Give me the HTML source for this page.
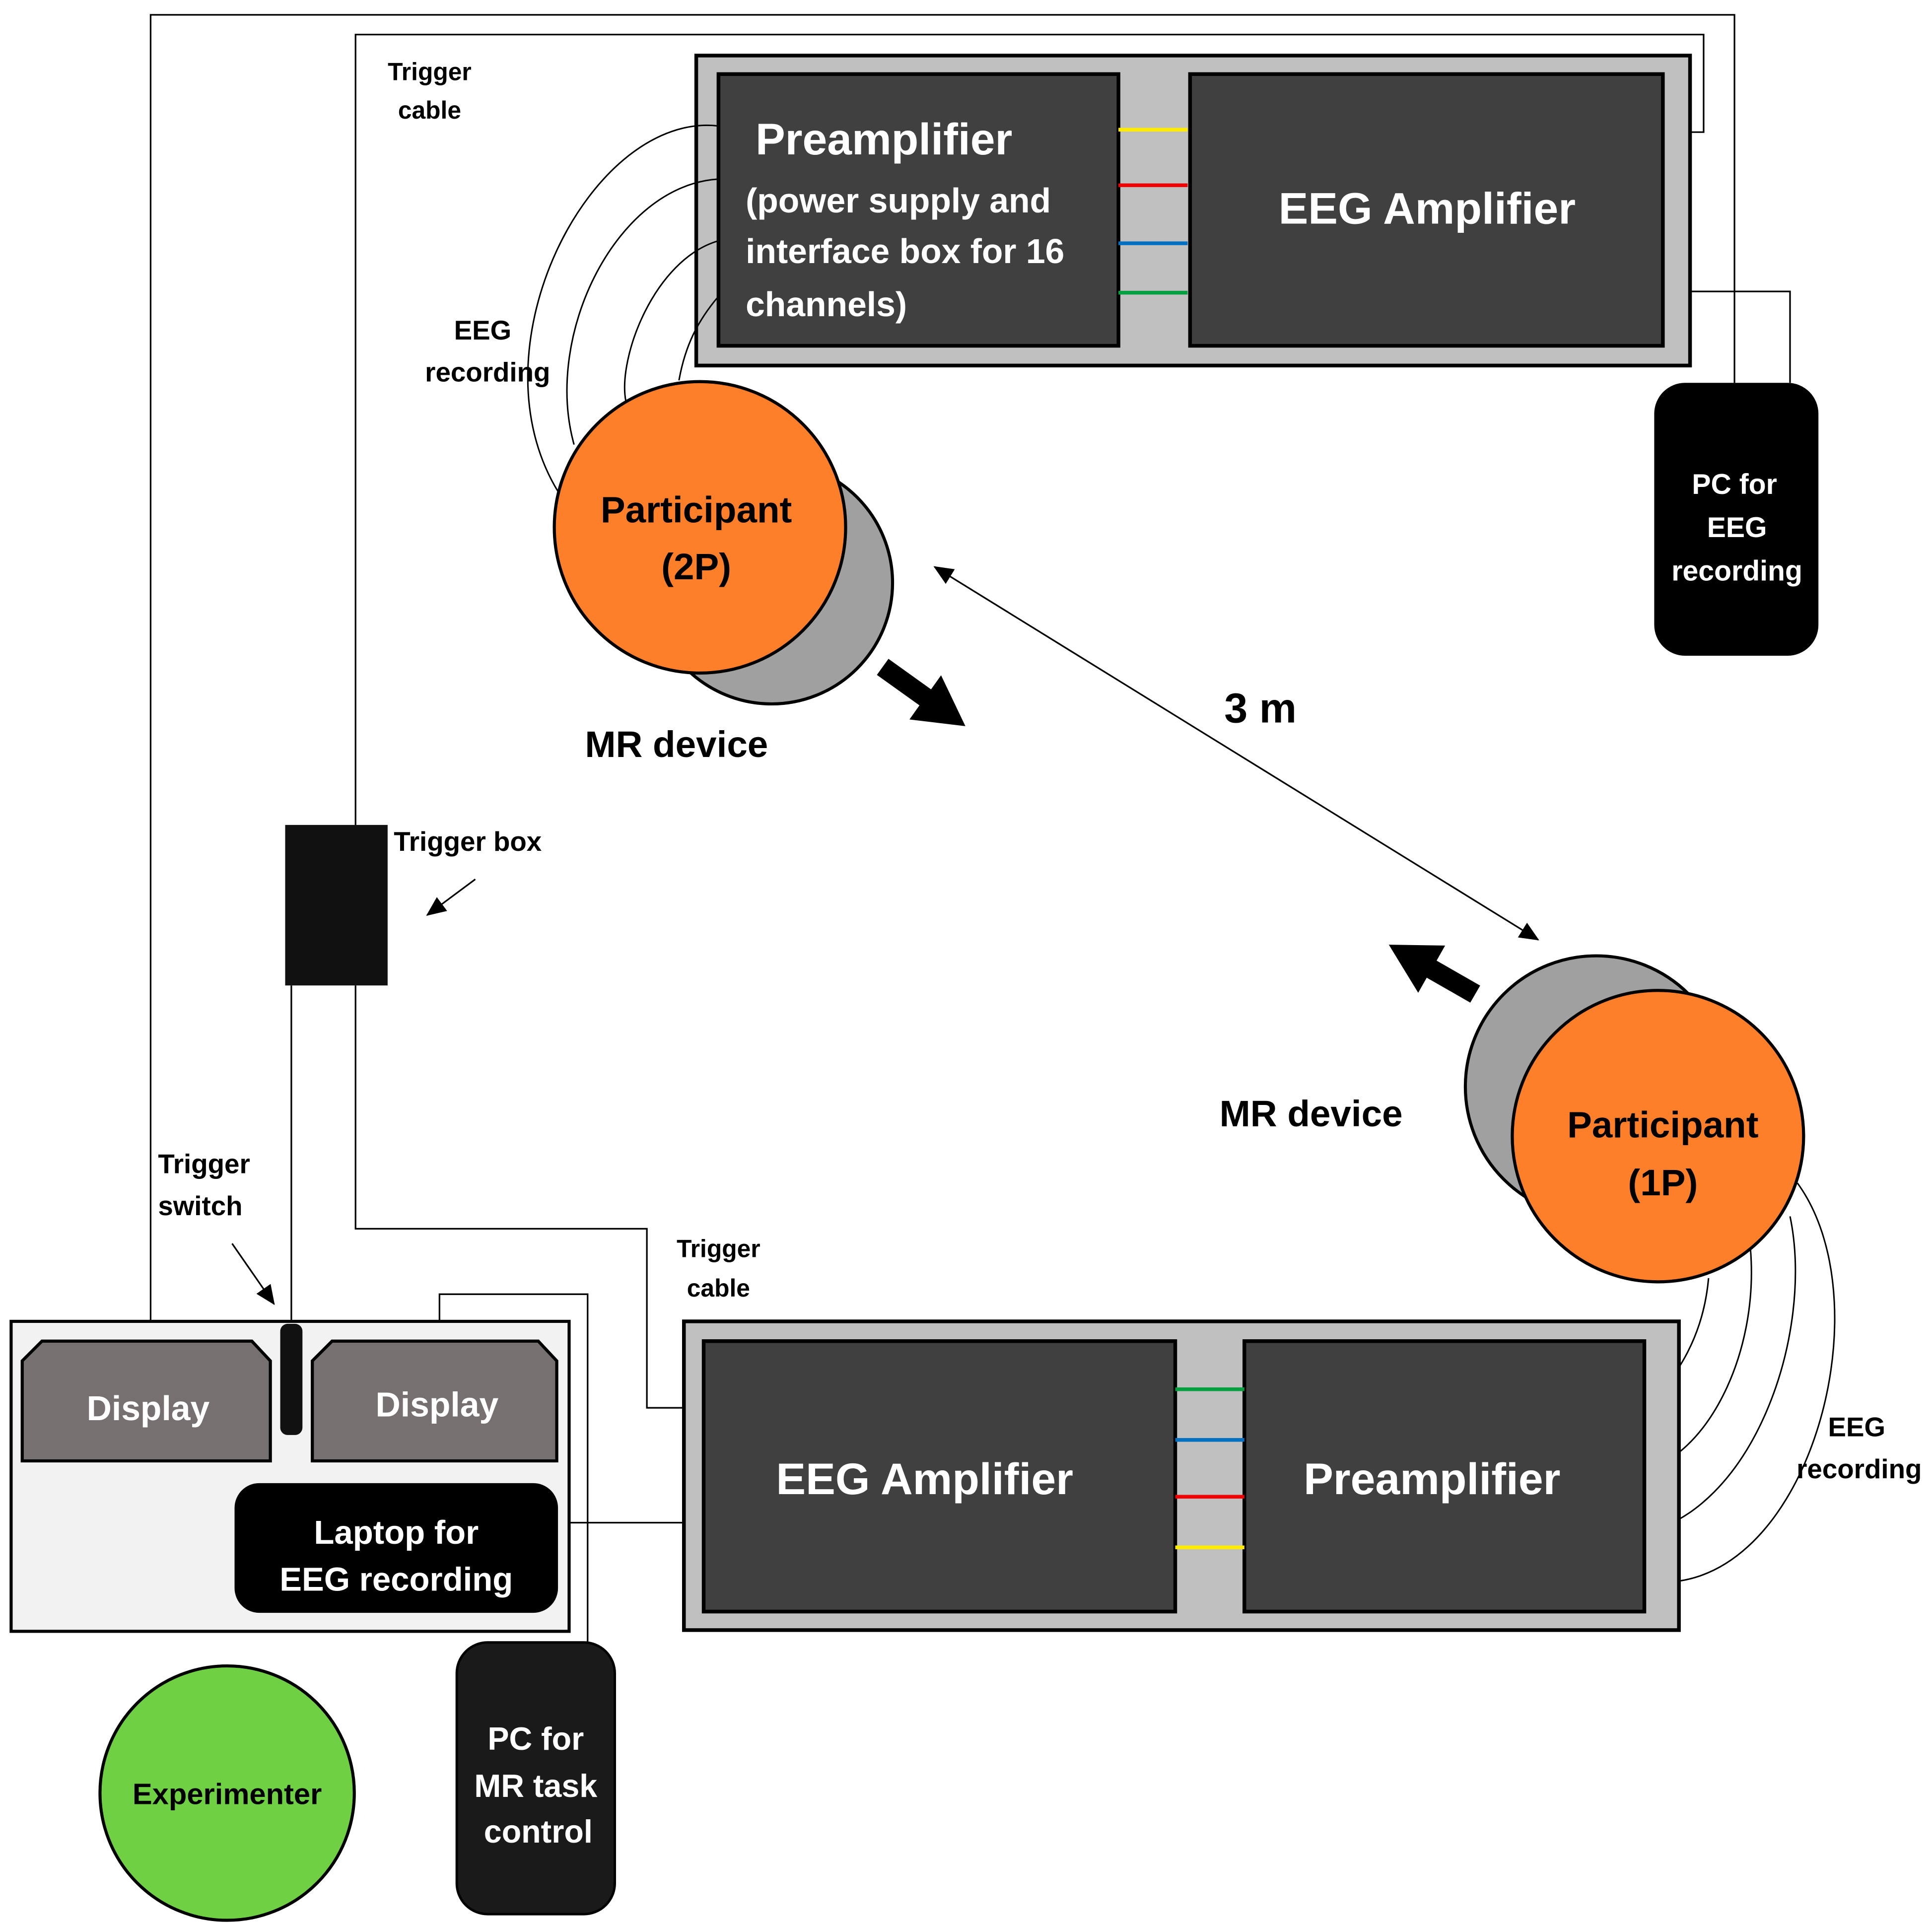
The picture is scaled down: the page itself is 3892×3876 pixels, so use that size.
<!DOCTYPE html>
<html><head><meta charset="utf-8"><style>html,body{margin:0;padding:0;background:#fff}svg{display:block}text{font-family:"Liberation Sans",sans-serif;font-weight:bold}</style></head><body>
<svg width="3892" height="3876" viewBox="0 0 1565 1558" preserveAspectRatio="none" xmlns="http://www.w3.org/2000/svg">
<defs>
<marker id="b" markerWidth="16" markerHeight="14" refX="15" refY="7" orient="auto" markerUnits="userSpaceOnUse"><path d="M0,0 L16,7 L0,14 Z" fill="#000"/></marker>
<marker id="c" markerWidth="16" markerHeight="14" refX="1" refY="7" orient="auto" markerUnits="userSpaceOnUse"><path d="M16,0 L0,7 L16,14 Z" fill="#000"/></marker></defs>
<g fill="none" stroke="#000" stroke-width="1.3">
<polyline points="122,1085 122,12 1405,12 1405,310"/>
<polyline points="288,668 288,28 1380,28 1380,107 1348,107"/>
<polyline points="1350,236 1450,236 1450,310"/>
<polyline points="288,798 288,995 524,995 524,1140 570,1140"/>
<line x1="236" y1="798" x2="236" y2="1072"/>
<polyline points="356,1085 356,1048 476,1048 476,1330"/>
<line x1="452" y1="1233" x2="570" y2="1233"/>
</g>
<rect x="564" y="45" width="805" height="251" fill="#c0c0c0" stroke="#000" stroke-width="3"/>
<rect x="582" y="60" width="324" height="220" fill="#404040" stroke="#000" stroke-width="3"/>
<rect x="964" y="60" width="383" height="220" fill="#404040" stroke="#000" stroke-width="3"/>
<g stroke-width="3"><line x1="906" y1="105" x2="962" y2="105" stroke="#ffeb00"/><line x1="906" y1="150" x2="962" y2="150" stroke="#e00"/><line x1="906" y1="197" x2="962" y2="197" stroke="#0070c0"/><line x1="906" y1="237" x2="962" y2="237" stroke="#00a040"/></g>
<text fill="#fff" font-size="36" x="612" y="125">Preamplifier</text>
<text fill="#fff" font-size="28" x="604" y="172">(power supply and</text>
<text fill="#fff" font-size="28" x="604" y="213">interface box for 16</text>
<text fill="#fff" font-size="28" x="604" y="256">channels)</text>
<text fill="#fff" font-size="36" x="1156" y="181" text-anchor="middle">EEG Amplifier</text>
<rect x="1340" y="310" width="133" height="221" rx="25" fill="#000"/>
<text fill="#fff" font-size="23" text-anchor="middle"><tspan x="1405" y="400">PC for</tspan><tspan x="1407" y="435">EEG</tspan><tspan x="1407" y="470">recording</tspan></text>
<circle cx="625" cy="472" r="98" fill="#a0a0a0" stroke="#000" stroke-width="2.5"/>
<circle cx="567" cy="427" r="118" fill="#fd7f2a" stroke="#000" stroke-width="2.5"/>
<text font-size="30" text-anchor="middle"><tspan x="564" y="423">Participant</tspan><tspan x="564" y="469">(2P)</tspan></text>
<g fill="none" stroke="#000" stroke-width="1.2">
<path d="M582,102 C480,90 380,280 452,398"/><path d="M582,145 C500,150 440,270 465,360"/><path d="M582,195 C530,210 500,290 507,325"/><path d="M582,240 C565,260 555,280 550,308"/>
<path d="M1384,1035 C1380,1080 1360,1115 1332,1140"/><path d="M1418,1012 C1425,1100 1380,1180 1332,1190"/><path d="M1450,985 C1470,1080 1420,1225 1328,1242"/><path d="M1456,958 C1530,1060 1460,1300 1332,1280"/>
</g>
<text font-size="30" x="548" y="613" text-anchor="middle">MR device</text>
<polygon points="710.3,546.5 719.7,533.5 754.2,558.2 762.3,546.8 782,588 736.7,582.6 744.8,571.2" fill="#000"/>
<line x1="757" y1="459" x2="1246" y2="761" stroke="#000" stroke-width="1.3" marker-start="url(#c)" marker-end="url(#b)"/>
<text font-size="34" x="1021" y="585" text-anchor="middle">3 m</text>
<circle cx="1293" cy="880" r="106" fill="#a0a0a0" stroke="#000" stroke-width="2.5"/>
<circle cx="1343" cy="920" r="118" fill="#fd7f2a" stroke="#000" stroke-width="2.5"/>
<text font-size="30" text-anchor="middle"><tspan x="1347" y="921">Participant</tspan><tspan x="1347" y="968">(1P)</tspan></text>
<polygon points="1199,798.1 1191,811.9 1155.7,791.7 1148.8,803.9 1125,765 1170.6,765.7 1163.7,777.9" fill="#000"/>
<text font-size="30" x="1062" y="912" text-anchor="middle">MR device</text>
<rect x="231" y="668" width="83" height="130" fill="#111"/>
<text font-size="22" x="319" y="689">Trigger box</text>
<line x1="385" y1="712" x2="346" y2="741" stroke="#000" stroke-width="1.3" marker-end="url(#b)"/>
<text font-size="20" text-anchor="middle"><tspan x="348" y="65">Trigger</tspan><tspan x="348" y="96">cable</tspan></text>
<text font-size="22" text-anchor="middle"><tspan x="391" y="275">EEG</tspan><tspan x="395" y="309">recording</tspan></text>
<text font-size="22"><tspan x="128" y="950">Trigger</tspan><tspan x="128" y="984">switch</tspan></text>
<line x1="188" y1="1007" x2="222" y2="1056" stroke="#000" stroke-width="1.3" marker-end="url(#b)"/>
<text font-size="20" text-anchor="middle"><tspan x="582" y="1018">Trigger</tspan><tspan x="582" y="1050">cable</tspan></text>
<rect x="554" y="1070" width="806" height="250" fill="#c0c0c0" stroke="#000" stroke-width="3"/>
<rect x="570" y="1086" width="382" height="219" fill="#404040" stroke="#000" stroke-width="3"/>
<rect x="1008" y="1086" width="324" height="219" fill="#404040" stroke="#000" stroke-width="3"/>
<g stroke-width="3"><line x1="952" y1="1125" x2="1008" y2="1125" stroke="#00a040"/><line x1="952" y1="1166" x2="1008" y2="1166" stroke="#0070c0"/><line x1="952" y1="1212" x2="1008" y2="1212" stroke="#e00"/><line x1="952" y1="1253" x2="1008" y2="1253" stroke="#ffeb00"/></g>
<text fill="#fff" font-size="36" x="749" y="1210" text-anchor="middle">EEG Amplifier</text>
<text fill="#fff" font-size="36" x="1160" y="1210" text-anchor="middle">Preamplifier</text>
<text font-size="22" text-anchor="middle"><tspan x="1504" y="1163">EEG</tspan><tspan x="1506" y="1197">recording</tspan></text>
<rect x="9" y="1070" width="452" height="251" fill="#f2f2f2" stroke="#000" stroke-width="2.5"/>
<polygon points="18,1102 34,1086 204,1086 219,1102 219,1183 18,1183" fill="#767070" stroke="#000" stroke-width="2.5"/>
<polygon points="253,1102 269,1086 436,1086 451,1102 451,1183 253,1183" fill="#767070" stroke="#000" stroke-width="2.5"/>
<text fill="#fff" font-size="28" x="120" y="1150" text-anchor="middle">Display</text>
<text fill="#fff" font-size="28" x="354" y="1147" text-anchor="middle">Display</text>
<rect x="227" y="1072" width="18" height="90" rx="6" fill="#111"/>
<rect x="190" y="1201" width="262" height="105" rx="20" fill="#000"/>
<text fill="#fff" font-size="27" text-anchor="middle"><tspan x="321" y="1250">Laptop for</tspan><tspan x="321" y="1288">EEG recording</tspan></text>
<rect x="370" y="1330" width="128" height="220" rx="25" fill="#1a1a1a" stroke="#000" stroke-width="2"/>
<text fill="#fff" font-size="26" text-anchor="middle"><tspan x="434" y="1417">PC for</tspan><tspan x="434" y="1455">MR task</tspan><tspan x="436" y="1492">control</tspan></text>
<circle cx="184" cy="1452" r="103" fill="#70d044" stroke="#000" stroke-width="2.5"/>
<text font-size="24" x="184" y="1461" text-anchor="middle">Experimenter</text>
</svg>
</body></html>
